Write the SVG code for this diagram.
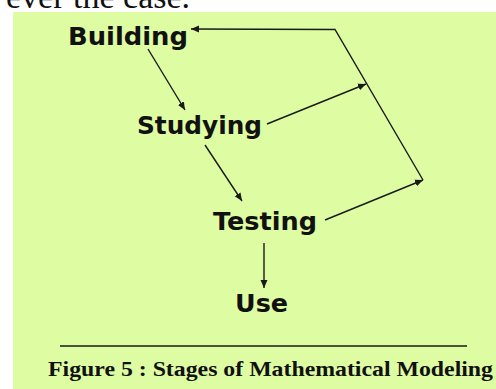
<svg xmlns="http://www.w3.org/2000/svg" width="496" height="389" viewBox="0 0 496 389">
<style>
.node{font-family:"DejaVu Sans",Verdana,sans-serif;font-weight:bold;font-size:24px;fill:#111}
.cap{font-family:"Liberation Serif","Times New Roman",serif;font-weight:bold;font-size:22px;fill:#111}
.top{font-family:"Liberation Serif","Times New Roman",serif;font-size:34px;fill:#111}
.c{fill:none;stroke:#1a1a1a;stroke-width:1.4}
</style>
<defs>
<marker id="ah" markerUnits="userSpaceOnUse" markerWidth="9" markerHeight="8" refX="8" refY="4" orient="auto">
<path d="M0,0.5 L8,4 L0,7.5 Z" fill="#1a1a1a"/>
</marker>
</defs>
<rect x="0" y="0" width="496" height="389" fill="#ffffff"/>
<text class="top" x="6" y="8">ever the case.</text>
<rect x="13" y="12" width="483" height="377" fill="#defca2"/>
<g id="building"><text class="node" x="68" y="45" textLength="120" lengthAdjust="spacingAndGlyphs">Building</text></g>
<g id="studying"><text class="node" x="137" y="134" textLength="125" lengthAdjust="spacingAndGlyphs">Studying</text></g>
<g id="testing"><text class="node" x="213" y="230" textLength="104" lengthAdjust="spacingAndGlyphs">Testing</text></g>
<g id="use"><text class="node" x="235" y="312" textLength="53" lengthAdjust="spacingAndGlyphs">Use</text></g>
<g id="connectors">
<line class="c" x1="148" y1="49" x2="185" y2="110" marker-end="url(#ah)"/>
<line class="c" x1="205" y1="145" x2="242" y2="201" marker-end="url(#ah)"/>
<line class="c" x1="264" y1="243" x2="264" y2="288" marker-end="url(#ah)"/>
<line class="c" x1="325" y1="220" x2="423" y2="180" marker-end="url(#ah)"/>
<line class="c" x1="267" y1="124" x2="366" y2="84" marker-end="url(#ah)"/>
<polyline class="c" points="423,180 335,29.5 191,29" marker-end="url(#ah)"/>
</g>
<line x1="60" y1="346" x2="467" y2="346" stroke="#1a1a1a" stroke-width="1.5"/>
<text class="cap" x="48" y="376" textLength="445" lengthAdjust="spacingAndGlyphs">Figure 5 : Stages of Mathematical Modeling</text>
</svg>
